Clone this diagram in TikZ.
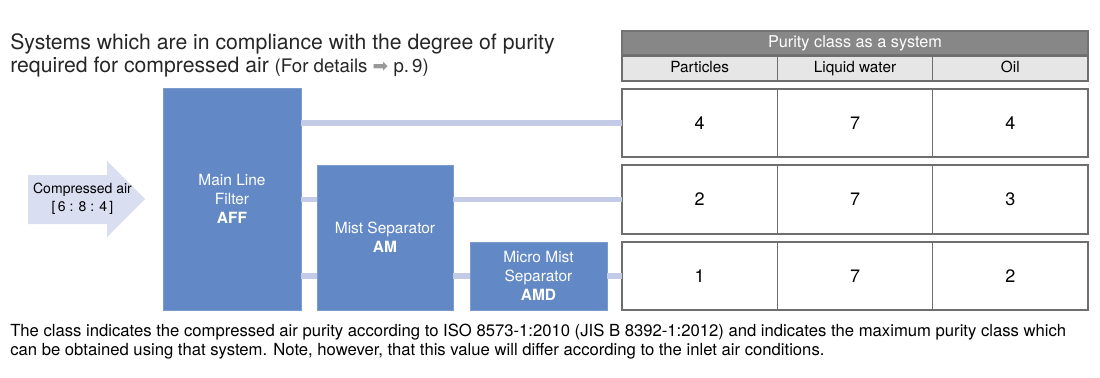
\documentclass[tikz,border=0pt]{standalone}
\usepackage{fontspec}
\setmainfont{TeX Gyre Heros}
\newfontfamily\symfont{DejaVu Sans}
\definecolor{boxblue}{HTML}{6289C5}
\definecolor{pipe}{HTML}{C3CBE6}
\definecolor{arrowfill}{HTML}{D9DEF0}
\definecolor{hdrdark}{HTML}{878787}
\definecolor{hdrlight}{HTML}{E6E6E6}
\definecolor{cellline}{HTML}{6E6E6E}
\tikzset{
  sz/.style 2 args={minimum width=#1*0.75pt, minimum height=#2*0.75pt, inner sep=0pt, outer sep=0pt},
  unitbox/.style={fill=boxblue, draw=boxblue!85!white, line width=0.6pt, text=white, align=center,
     font=\fontsize{11.6pt}{14pt}\selectfont},
  cell/.style={draw=cellline, line width=0.9pt, fill=white, font=\fontsize{13.5pt}{16pt}\selectfont},
  hdr/.style={draw=cellline, line width=0.9pt, fill=hdrlight, text height=8.6pt, text depth=2.6pt,
     font=\fontsize{11.5pt}{13pt}\selectfont},
  pipeline/.style={draw=pipe, line width=3.8pt},
}
\begin{document}
\begin{tikzpicture}[x=0.75pt,y=-0.75pt]
\useasboundingbox (0,0) rectangle (1100,378);
% title
\node[anchor=base west, inner sep=0pt, align=left, font=\fontsize{15.9pt}{17.5pt}\selectfont, text=black!85] (title) at (10,73)
  {Systems which are in compliance with the degree of purity\\required for compressed air {\fontsize{14pt}{14pt}\selectfont (For details {\symfont\color{black!40}\fontsize{14pt}{14pt}\selectfont ➡} p.\,9)}};
% units
\node[unitbox, sz={138}{222}] (aff) at (232,199) {Main Line\\Filter\\\textbf{AFF}};
\node[unitbox, sz={136}{145}] (am) at (385,237.5) {Mist Separator\\\textbf{AM}};
\node[unitbox, sz={137}{68}] (amd) at (538.5,276) {Micro Mist\\Separator\\\textbf{AMD}};
% header
\node[draw=black!55, line width=0.9pt, fill=hdrdark, text=white, sz={466}{24}, text height=8.8pt, text depth=2.6pt, font=\fontsize{12.2pt}{13pt}\selectfont] (hd) at (855,43) {Purity class as a system};
\node[hdr, sz={155.33}{25}] (h1) at (699.67,68.5) {Particles};
\node[hdr, sz={155.33}{25}] (h2) at (855,68.5) {Liquid water};
\node[hdr, sz={155.33}{25}] (h3) at (1010.33,68.5) {Oil};
% rows
\node[cell, sz={155.33}{68}] (r1a) at (699.67,123) {4};
\node[cell, sz={155.33}{68}] (r1b) at (855,123) {7};
\node[cell, sz={155.33}{68}] (r1c) at (1010.33,123) {4};
\node[cell, sz={155.33}{69}] (r2a) at (699.67,199.5) {2};
\node[cell, sz={155.33}{69}] (r2b) at (855,199.5) {7};
\node[cell, sz={155.33}{69}] (r2c) at (1010.33,199.5) {3};
\node[cell, sz={155.33}{68}] (r3a) at (699.67,276) {1};
\node[cell, sz={155.33}{68}] (r3b) at (855,276) {7};
\node[cell, sz={155.33}{68}] (r3c) at (1010.33,276) {2};
% pipes
\draw[pipeline] (aff.east |- r1a.west) -- (r1a.west);
\draw[pipeline] (aff.east |- r2a.west) -- (am.west |- r2a.west);
\draw[pipeline] (am.east |- r2a.west) -- (r2a.west);
\draw[pipeline] (aff.east |- r3a.west) -- (am.west |- r3a.west);
\draw[pipeline] (am.east |- r3a.west) -- (amd.west |- r3a.west);
\draw[pipeline] (amd.east |- r3a.west) -- (r3a.west);
% inlet arrow
\fill[arrowfill] (28,175) -- (107,175) -- (107,161) -- (145,199) -- (107,237) -- (107,224) -- (28,224) -- cycle;
\node[align=center, inner sep=0pt, font=\fontsize{10.5pt}{13.5pt}\selectfont] (inlet) at (82.5,199) {Compressed air\\{[}\,6 : 8 : 4\,{]}};
% note
\node[anchor=base west, inner sep=0pt, align=left, font=\fontsize{12.5pt}{14.25pt}\selectfont] (note) at (10,355)
  {The class indicates the compressed air purity according to ISO 8573-1:2010 (JIS B 8392-1:2012) and indicates the maximum purity class which\\
   can be obtained using that system. Note, however, that this value will differ according to the inlet air conditions.};
\end{tikzpicture}
\end{document}
